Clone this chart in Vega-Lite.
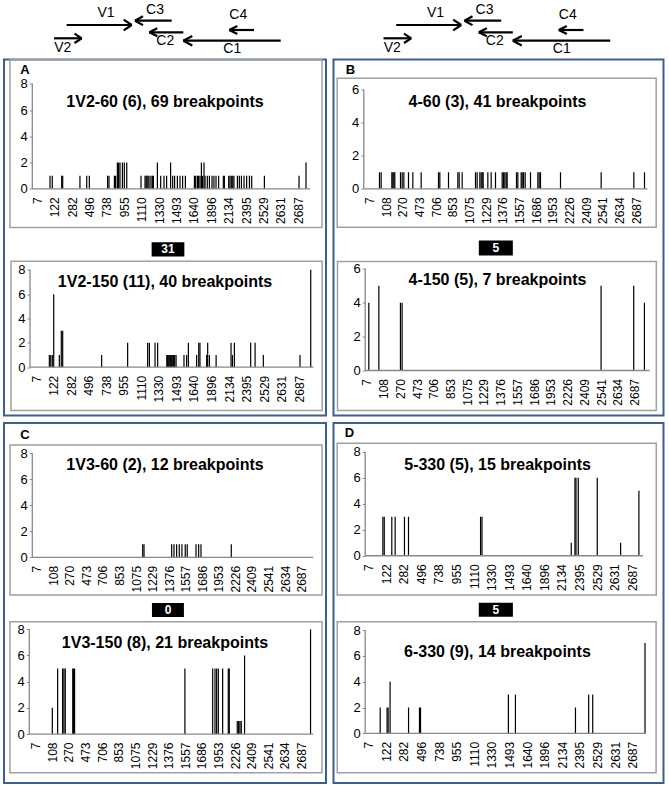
{
  "$schema": "https://vega.github.io/schema/vega-lite/v6.json",
  "padding": {"left": 3, "top": 0, "right": 0, "bottom": 0},
  "bounds": "flush",
  "align": "each",
  "columns": 2,
  "spacing": 7.5,
  "config": {
    "font": "Liberation Sans",
    "view": {"stroke": "#3D5F8C", "strokeWidth": 2},
    "axis": {"domain": false, "grid": false, "labelColor": "#000", "tickColor": "#888", "labelBound": false, "labelFlush": false, "labelOverlap": false},
    "axisX": {"labelAngle": -90, "ticks": false, "tickSize": 0, "labelPadding": 8, "labelFontSize": 12, "labelOverlap": false, "tickCount": 100},
    "axisY": {"tickSize": 3, "labelPadding": 2, "labelFontSize": 13, "tickCount": 20}
  },
  "datasets": {
    "seg": [
      {"x": 62.7, "y": 25, "x2": 127.7, "y2": 25},
      {"x": 119.7, "y": 19.7, "x2": 127.7, "y2": 25},
      {"x": 119.7, "y": 30.3, "x2": 127.7, "y2": 25},
      {"x": 50, "y": 38.3, "x2": 77.7, "y2": 38.3},
      {"x": 70.5, "y": 33.6, "x2": 77.7, "y2": 38.3},
      {"x": 70.5, "y": 43, "x2": 77.7, "y2": 38.3},
      {"x": 131, "y": 20.7, "x2": 167.7, "y2": 20.7},
      {"x": 131, "y": 20.7, "x2": 139, "y2": 16.3},
      {"x": 131, "y": 20.7, "x2": 139, "y2": 25.1},
      {"x": 145.3, "y": 32.3, "x2": 179.3, "y2": 32.3},
      {"x": 145.3, "y": 32.3, "x2": 153.3, "y2": 28.3},
      {"x": 145.3, "y": 32.3, "x2": 153.3, "y2": 36.3},
      {"x": 179.3, "y": 40.7, "x2": 276.7, "y2": 40.7},
      {"x": 179.3, "y": 40.7, "x2": 188.3, "y2": 36},
      {"x": 179.3, "y": 40.7, "x2": 188.3, "y2": 45.4},
      {"x": 225.3, "y": 30, "x2": 250, "y2": 30},
      {"x": 225.3, "y": 30, "x2": 233.3, "y2": 26},
      {"x": 225.3, "y": 30, "x2": 233.3, "y2": 34}
    ],
    "lab": [
      {"x": 102, "y": 13.3, "label": "V1"},
      {"x": 58.8, "y": 47.7, "label": "V2"},
      {"x": 151, "y": 10, "label": "C3"},
      {"x": 161.3, "y": 40.7, "label": "C2"},
      {"x": 228.3, "y": 49.3, "label": "C1"},
      {"x": 234.3, "y": 15, "label": "C4"}
    ],
    "A1": [
      {"pos": 7.3, "count": 1}, {"pos": 8.6, "count": 1}, {"pos": 14.0, "count": 1}, {"pos": 14.6, "count": 1},
      {"pos": 24.5, "count": 1}, {"pos": 28.4, "count": 1}, {"pos": 29.9, "count": 1}, {"pos": 40.4, "count": 1},
      {"pos": 41.2, "count": 1}, {"pos": 44.3, "count": 1}, {"pos": 45.0, "count": 1}, {"pos": 46.0, "count": 2},
      {"pos": 46.7, "count": 2}, {"pos": 47.5, "count": 2}, {"pos": 48.9, "count": 2}, {"pos": 50.0, "count": 2},
      {"pos": 51.4, "count": 2}, {"pos": 59.6, "count": 1}, {"pos": 61.9, "count": 1}, {"pos": 62.5, "count": 1},
      {"pos": 63.0, "count": 1}, {"pos": 63.6, "count": 1}, {"pos": 64.2, "count": 1}, {"pos": 65.3, "count": 1},
      {"pos": 66.1, "count": 1}, {"pos": 66.7, "count": 1}, {"pos": 69.0, "count": 2}, {"pos": 70.9, "count": 1},
      {"pos": 72.8, "count": 1}, {"pos": 74.3, "count": 1}, {"pos": 76.6, "count": 2}, {"pos": 77.8, "count": 1},
      {"pos": 78.9, "count": 1}, {"pos": 80.5, "count": 1}, {"pos": 82.0, "count": 1}, {"pos": 83.5, "count": 1},
      {"pos": 85.1, "count": 1}, {"pos": 90.3, "count": 1}, {"pos": 91.0, "count": 1}, {"pos": 92.0, "count": 1},
      {"pos": 92.7, "count": 1}, {"pos": 93.5, "count": 1}, {"pos": 94.3, "count": 2}, {"pos": 95.0, "count": 1},
      {"pos": 95.8, "count": 2}, {"pos": 96.4, "count": 1}, {"pos": 97.7, "count": 1}, {"pos": 98.9, "count": 1},
      {"pos": 100.4, "count": 1}, {"pos": 101.5, "count": 1}, {"pos": 102.7, "count": 1}, {"pos": 104.2, "count": 1},
      {"pos": 106.9, "count": 1}, {"pos": 107.5, "count": 1}, {"pos": 110.0, "count": 1}, {"pos": 110.7, "count": 1},
      {"pos": 111.5, "count": 1}, {"pos": 112.3, "count": 1}, {"pos": 113.0, "count": 1}, {"pos": 115.0, "count": 1},
      {"pos": 116.1, "count": 1}, {"pos": 117.3, "count": 1}, {"pos": 118.8, "count": 1}, {"pos": 120.3, "count": 1},
      {"pos": 121.9, "count": 1}, {"pos": 123.2, "count": 1}, {"pos": 130.5, "count": 1}, {"pos": 150.4, "count": 1},
      {"pos": 154.4, "count": 2}
    ],
    "A2": [
      {"pos": 7.6, "count": 1}, {"pos": 8.4, "count": 1}, {"pos": 9.3, "count": 1}, {"pos": 10.1, "count": 6},
      {"pos": 13.3, "count": 1}, {"pos": 14.4, "count": 3}, {"pos": 15.2, "count": 3}, {"pos": 37.4, "count": 1},
      {"pos": 52.2, "count": 2}, {"pos": 63.6, "count": 2}, {"pos": 64.6, "count": 2}, {"pos": 67.8, "count": 2},
      {"pos": 69.3, "count": 2}, {"pos": 74.5, "count": 1}, {"pos": 75.0, "count": 1}, {"pos": 75.6, "count": 1},
      {"pos": 76.2, "count": 1}, {"pos": 76.7, "count": 1}, {"pos": 77.3, "count": 1}, {"pos": 77.9, "count": 1},
      {"pos": 78.4, "count": 1}, {"pos": 79.0, "count": 1}, {"pos": 79.8, "count": 1}, {"pos": 84.3, "count": 1},
      {"pos": 85.8, "count": 1}, {"pos": 86.8, "count": 2}, {"pos": 91.5, "count": 1}, {"pos": 92.7, "count": 2},
      {"pos": 93.4, "count": 2}, {"pos": 97.2, "count": 1}, {"pos": 97.8, "count": 2}, {"pos": 98.8, "count": 1},
      {"pos": 102.6, "count": 1}, {"pos": 111.1, "count": 2}, {"pos": 111.9, "count": 1}, {"pos": 113.0, "count": 2},
      {"pos": 122.3, "count": 2}, {"pos": 124.8, "count": 2}, {"pos": 129.5, "count": 1}, {"pos": 150.4, "count": 1},
      {"pos": 156.5, "count": 8}
    ],
    "B1": [
      {"pos": 6, "count": 1}, {"pos": 7, "count": 1}, {"pos": 13.4, "count": 1}, {"pos": 14, "count": 1},
      {"pos": 14.6, "count": 1}, {"pos": 15.2, "count": 1}, {"pos": 18.6, "count": 1}, {"pos": 19.6, "count": 1},
      {"pos": 20.6, "count": 1}, {"pos": 23.4, "count": 1}, {"pos": 26, "count": 1}, {"pos": 31, "count": 1},
      {"pos": 41.4, "count": 1}, {"pos": 42.2, "count": 1}, {"pos": 47.4, "count": 1}, {"pos": 53, "count": 1},
      {"pos": 53.8, "count": 1}, {"pos": 55.6, "count": 1}, {"pos": 63.6, "count": 1}, {"pos": 64.6, "count": 1},
      {"pos": 66.2, "count": 1}, {"pos": 67, "count": 1}, {"pos": 67.6, "count": 1}, {"pos": 68.2, "count": 1},
      {"pos": 71, "count": 1}, {"pos": 73, "count": 1}, {"pos": 75.6, "count": 1}, {"pos": 79.6, "count": 1},
      {"pos": 80.4, "count": 1}, {"pos": 81.2, "count": 1}, {"pos": 82, "count": 1}, {"pos": 82.6, "count": 1},
      {"pos": 88.2, "count": 1}, {"pos": 89, "count": 1}, {"pos": 91, "count": 1}, {"pos": 91.6, "count": 1},
      {"pos": 92.4, "count": 1}, {"pos": 93.4, "count": 1}, {"pos": 96.6, "count": 1}, {"pos": 101, "count": 1},
      {"pos": 101.8, "count": 1}, {"pos": 102.6, "count": 1}, {"pos": 114.6, "count": 1}, {"pos": 139, "count": 1},
      {"pos": 158.6, "count": 1}, {"pos": 165, "count": 1}
    ],
    "B2": [
      {"pos": 1.2, "count": 4}, {"pos": 7.2, "count": 5}, {"pos": 20.1, "count": 4}, {"pos": 21.1, "count": 4},
      {"pos": 140.0, "count": 5}, {"pos": 159.5, "count": 5}, {"pos": 165.9, "count": 4}
    ],
    "C1": [
      {"pos": 64.0, "count": 1}, {"pos": 64.8, "count": 1}, {"pos": 81.5, "count": 1}, {"pos": 82.9, "count": 1},
      {"pos": 84.5, "count": 1}, {"pos": 86.1, "count": 1}, {"pos": 87.7, "count": 1}, {"pos": 89.7, "count": 1},
      {"pos": 90.9, "count": 1}, {"pos": 96.2, "count": 1}, {"pos": 97.8, "count": 1}, {"pos": 99.2, "count": 1},
      {"pos": 117.5, "count": 1}
    ],
    "C2": [
      {"pos": 10.0, "count": 2}, {"pos": 13.2, "count": 5}, {"pos": 16.2, "count": 5}, {"pos": 17.0, "count": 5},
      {"pos": 17.8, "count": 5}, {"pos": 22.3, "count": 5}, {"pos": 22.8, "count": 5}, {"pos": 23.4, "count": 5},
      {"pos": 89.8, "count": 5}, {"pos": 106.5, "count": 5}, {"pos": 107.9, "count": 5}, {"pos": 108.9, "count": 5},
      {"pos": 109.9, "count": 5}, {"pos": 112.5, "count": 5}, {"pos": 115.9, "count": 5}, {"pos": 116.5, "count": 5},
      {"pos": 121.3, "count": 1}, {"pos": 122.1, "count": 1}, {"pos": 122.9, "count": 1}, {"pos": 123.7, "count": 1},
      {"pos": 125.7, "count": 6}, {"pos": 165.4, "count": 8}
    ],
    "D1": [
      {"pos": 8.1, "count": 3}, {"pos": 8.9, "count": 3}, {"pos": 13.2, "count": 3}, {"pos": 15.1, "count": 3},
      {"pos": 20.4, "count": 3}, {"pos": 22.7, "count": 3}, {"pos": 63.7, "count": 3}, {"pos": 64.5, "count": 3},
      {"pos": 115.3, "count": 1}, {"pos": 117.4, "count": 6}, {"pos": 118.0, "count": 6}, {"pos": 119.3, "count": 6},
      {"pos": 130.1, "count": 6}, {"pos": 143.4, "count": 1}, {"pos": 153.8, "count": 5}
    ],
    "D2": [
      {"pos": 6.6, "count": 2}, {"pos": 10.5, "count": 2}, {"pos": 11.1, "count": 2}, {"pos": 12.2, "count": 4},
      {"pos": 22.7, "count": 2}, {"pos": 28.9, "count": 2}, {"pos": 29.5, "count": 2}, {"pos": 79.4, "count": 3},
      {"pos": 83.4, "count": 3}, {"pos": 117.5, "count": 2}, {"pos": 125.0, "count": 3}, {"pos": 127.3, "count": 3},
      {"pos": 157.0, "count": 7}
    ]
  },
  "concat": [
    {
      "width": 322, "height": 51.5,
      "view": {"stroke": null},
      "layer": [
        {"data": {"name": "seg"}, "mark": {"type": "rule", "color": "#000", "strokeWidth": 2.2},
         "encoding": {
           "x": {"field": "x", "type": "quantitative", "scale": {"domain": [0, 322], "nice": false, "zero": false}, "axis": null},
           "y": {"field": "y", "type": "quantitative", "scale": {"domain": [0, 51.5], "reverse": true, "nice": false, "zero": false}, "axis": null},
           "x2": {"field": "x2"}, "y2": {"field": "y2"}}},
        {"data": {"name": "lab"}, "mark": {"type": "text", "fontSize": 14, "color": "#000"},
         "encoding": {"x": {"field": "x", "type": "quantitative", "axis": null}, "y": {"field": "y", "type": "quantitative", "axis": null}, "text": {"field": "label"}}}
      ]
    },
    {
      "width": 330, "height": 51.5,
      "view": {"stroke": null},
      "layer": [
        {"data": {"name": "seg"}, "mark": {"type": "rule", "color": "#000", "strokeWidth": 2.2},
         "encoding": {
           "x": {"field": "x", "type": "quantitative", "scale": {"domain": [0, 330], "nice": false, "zero": false}, "axis": null},
           "y": {"field": "y", "type": "quantitative", "scale": {"domain": [0, 51.5], "reverse": true, "nice": false, "zero": false}, "axis": null},
           "x2": {"field": "x2"}, "y2": {"field": "y2"}}},
        {"data": {"name": "lab"}, "mark": {"type": "text", "fontSize": 14, "color": "#000"},
         "encoding": {"x": {"field": "x", "type": "quantitative", "axis": null}, "y": {"field": "y", "type": "quantitative", "axis": null}, "text": {"field": "label"}}}
      ]
    },
    {
      "width": 322, "height": 356,
      "resolve": {"scale": {"x": "independent", "y": "independent"}},
      "layer": [
        {
          "layer": [
            {"data": {"name": "A1"}, "mark": {"type": "rule", "color": "#000", "strokeWidth": 1.2},
             "encoding": {
               "x": {"field": "pos", "type": "quantitative", "scale": {"domain": [-19.14, 165.9], "nice": false, "zero": false},
                     "axis": {"orient": "bottom", "offset": -226.7, "title": null, "tickCount": 100, "labelOverlap": false, "values": [0,10,20,30,40,50,60,70,80,90,100,110,120,130,140,150],
                              "labelExpr": "['7','122','282','496','738','955','1110','1330','1493','1640','1896','2134','2395','2529','2631','2687'][round(datum.value/10)]"}},
               "y": {"field": "count", "type": "quantitative", "scale": {"domain": [-17.27, 9.851], "nice": false, "zero": false},
                     "axis": {"orient": "left", "offset": -28.3, "title": null, "values": [0,2,4,6,8]}},
               "y2": {"datum": 0}}},
            {"data": {"values": [{}]}, "mark": {"type": "rect", "filled": false, "stroke": "#A0A0A0", "strokeWidth": 1.5},
             "encoding": {"x": {"datum": -15.7}, "x2": {"datum": 163.6}, "y": {"datum": -2.95}, "y2": {"datum": 9.84}}},
            {"data": {"values": [{}]}, "mark": {"type": "rule", "color": "#888", "strokeWidth": 1.3},
             "encoding": {"x": {"datum": -2.87}, "y": {"datum": 0}, "y2": {"datum": 8}}},
            {"data": {"values": [{}]}, "mark": {"type": "rule", "color": "#888", "strokeWidth": 1.3},
             "encoding": {"x": {"datum": -2.87}, "x2": {"datum": 156.7}, "y": {"datum": 0}}},
            {"data": {"values": [{}]}, "mark": {"type": "text", "fontSize": 16, "fontWeight": "bold", "text": "1V2-60 (6), 69 breakpoints"},
             "encoding": {"x": {"datum": 73.4}, "y": {"datum": 6.58}}},
            {"data": {"values": [{}]}, "mark": {"type": "text", "fontSize": 13, "fontWeight": "bold", "text": "A"},
             "encoding": {"x": {"datum": -7.1}, "y": {"datum": 9.07}}},
            {"data": {"values": [{}]}, "mark": {"type": "rect", "color": "#000"},
             "encoding": {"x": {"datum": 65.7}, "x2": {"datum": 84.5}, "y": {"datum": -5.16}, "y2": {"datum": -4.07}}},
            {"data": {"values": [{}]}, "mark": {"type": "text", "fontSize": 12, "fontWeight": "bold", "color": "#fff", "text": "31"},
             "encoding": {"x": {"datum": 75.1}, "y": {"datum": -4.6}}}
          ]
        },
        {
          "layer": [
            {"data": {"name": "A2"}, "mark": {"type": "rule", "color": "#000", "strokeWidth": 1.2},
             "encoding": {
               "x": {"field": "pos", "type": "quantitative", "scale": {"domain": [-18.23, 165.2], "nice": false, "zero": false},
                     "axis": {"orient": "bottom", "offset": -48.3, "title": null, "tickCount": 100, "labelOverlap": false, "values": [0,10,20,30,40,50,60,70,80,90,100,110,120,130,140,150],
                              "labelExpr": "['7','122','282','496','738','955','1110','1330','1493','1640','1896','2134','2395','2529','2631','2687'][round(datum.value/10)]"}},
               "y": {"field": "count", "type": "quantitative", "scale": {"domain": [-3.97, 25.28], "nice": false, "zero": false},
                     "axis": {"orient": "left", "offset": -26, "title": null, "values": [0,2,4,6,8]}},
               "y2": {"datum": 0}}},
            {"data": {"values": [{}]}, "mark": {"type": "rect", "filled": false, "stroke": "#A0A0A0", "strokeWidth": 1.5},
             "encoding": {"x": {"datum": -14.25}, "x2": {"datum": 163.0}, "y": {"datum": -3.56}, "y2": {"datum": 8.71}}},
            {"data": {"values": [{}]}, "mark": {"type": "rule", "color": "#888", "strokeWidth": 1.3},
             "encoding": {"x": {"datum": -3.42}, "y": {"datum": 0}, "y2": {"datum": 8}}},
            {"data": {"values": [{}]}, "mark": {"type": "rule", "color": "#888", "strokeWidth": 1.3},
             "encoding": {"x": {"datum": -3.42}, "x2": {"datum": 158.0}, "y": {"datum": 0}}},
            {"data": {"values": [{}]}, "mark": {"type": "text", "fontSize": 16, "fontWeight": "bold", "text": "1V2-150 (11), 40 breakpoints"},
             "encoding": {"x": {"datum": 73.5}, "y": {"datum": 6.98}}}
          ]
        }
      ]
    },
    {
      "width": 330, "height": 356,
      "resolve": {"scale": {"x": "independent", "y": "independent"}},
      "layer": [
        {
          "layer": [
            {"data": {"name": "B1"}, "mark": {"type": "rule", "color": "#000", "strokeWidth": 1.2},
             "encoding": {
               "x": {"field": "pos", "type": "quantitative", "scale": {"domain": [-21.6, 176.4], "nice": false, "zero": false},
                     "axis": {"orient": "bottom", "offset": -226.7, "title": null, "tickCount": 100, "labelOverlap": false, "values": [0,10,20,30,40,50,60,70,80,90,100,110,120,130,140,150,160],
                              "labelExpr": "['7','108','270','473','706','853','1075','1229','1376','1557','1686','1953','2226','2409','2541','2634','2687'][round(datum.value/10)]"}},
               "y": {"field": "count", "type": "quantitative", "scale": {"domain": [-13.74, 7.836], "nice": false, "zero": false},
                     "axis": {"orient": "left", "offset": -30.3, "title": null, "values": [0,2,4,6]}},
               "y2": {"datum": 0}}},
            {"data": {"values": [{}]}, "mark": {"type": "rect", "filled": false, "stroke": "#A0A0A0", "strokeWidth": 1.5},
             "encoding": {"x": {"datum": -19.4}, "x2": {"datum": 172.0}, "y": {"datum": -2.33}, "y2": {"datum": 6.70}}},
            {"data": {"values": [{}]}, "mark": {"type": "rule", "color": "#888", "strokeWidth": 1.3},
             "encoding": {"x": {"datum": -3.42}, "y": {"datum": 0}, "y2": {"datum": 6}}},
            {"data": {"values": [{}]}, "mark": {"type": "rule", "color": "#888", "strokeWidth": 1.3},
             "encoding": {"x": {"datum": -3.42}, "x2": {"datum": 166.8}, "y": {"datum": 0}}},
            {"data": {"values": [{}]}, "mark": {"type": "text", "fontSize": 16, "fontWeight": "bold", "text": "4-60 (3),  41 breakpoints"},
             "encoding": {"x": {"datum": 76.8}, "y": {"datum": 5.25}}},
            {"data": {"values": [{}]}, "mark": {"type": "text", "fontSize": 13, "fontWeight": "bold", "text": "B"},
             "encoding": {"x": {"datum": -11.4}, "y": {"datum": 7.2}}},
            {"data": {"values": [{}]}, "mark": {"type": "rect", "color": "#000"},
             "encoding": {"x": {"datum": 65.6}, "x2": {"datum": 86.0}, "y": {"datum": -4.04}, "y2": {"datum": -3.13}}},
            {"data": {"values": [{}]}, "mark": {"type": "text", "fontSize": 12, "fontWeight": "bold", "color": "#fff", "text": "5"},
             "encoding": {"x": {"datum": 75.8}, "y": {"datum": -3.59}}}
          ]
        },
        {
          "layer": [
            {"data": {"name": "B2"}, "mark": {"type": "rule", "color": "#000", "strokeWidth": 1.2},
             "encoding": {
               "x": {"field": "pos", "type": "quantitative", "scale": {"domain": [-19.9, 177.3], "nice": false, "zero": false},
                     "axis": {"orient": "bottom", "offset": -45, "title": null, "tickCount": 100, "labelOverlap": false, "values": [0,10,20,30,40,50,60,70,80,90,100,110,120,130,140,150,160],
                              "labelExpr": "['7','108','270','473','706','853','1075','1229','1376','1557','1686','1953','2226','2409','2541','2634','2687'][round(datum.value/10)]"}},
               "y": {"field": "count", "type": "quantitative", "scale": {"domain": [-2.655, 18.35], "nice": false, "zero": false},
                     "axis": {"orient": "left", "offset": -31.7, "title": null, "values": [0,2,4,6]}},
               "y2": {"datum": 0}}},
            {"data": {"values": [{}]}, "mark": {"type": "rect", "filled": false, "stroke": "#A0A0A0", "strokeWidth": 1.5},
             "encoding": {"x": {"datum": -17.5}, "x2": {"datum": 173.0}, "y": {"datum": -2.36}, "y2": {"datum": 6.43}}},
            {"data": {"values": [{}]}, "mark": {"type": "rule", "color": "#888", "strokeWidth": 1.3},
             "encoding": {"x": {"datum": -0.96}, "y": {"datum": 0}, "y2": {"datum": 6}}},
            {"data": {"values": [{}]}, "mark": {"type": "rule", "color": "#888", "strokeWidth": 1.3},
             "encoding": {"x": {"datum": -0.96}, "x2": {"datum": 169.0}, "y": {"datum": 0}}},
            {"data": {"values": [{}]}, "mark": {"type": "text", "fontSize": 16, "fontWeight": "bold", "text": "4-150 (5),  7 breakpoints"},
             "encoding": {"x": {"datum": 78.1}, "y": {"datum": 5.35}}}
          ]
        }
      ]
    },
    {
      "width": 322, "height": 360,
      "resolve": {"scale": {"x": "independent", "y": "independent"}},
      "layer": [
        {
          "layer": [
            {"data": {"name": "C1"}, "mark": {"type": "rule", "color": "#000", "strokeWidth": 1.2},
             "encoding": {
               "x": {"field": "pos", "type": "quantitative", "scale": {"domain": [-19.75, 174.7], "nice": false, "zero": false},
                     "axis": {"orient": "bottom", "offset": -225.7, "title": null, "tickCount": 100, "labelOverlap": false, "values": [0,10,20,30,40,50,60,70,80,90,100,110,120,130,140,150,160],
                              "labelExpr": "['7','108','270','473','706','853','1075','1229','1376','1557','1686','1953','2226','2409','2541','2634','2687'][round(datum.value/10)]"}},
               "y": {"field": "count", "type": "quantitative", "scale": {"domain": [-17.36, 10.33], "nice": false, "zero": false},
                     "axis": {"orient": "left", "offset": -28.3, "title": null, "values": [0,2,4,6,8]}},
               "y2": {"datum": 0}}},
            {"data": {"values": [{}]}, "mark": {"type": "rect", "filled": false, "stroke": "#A0A0A0", "strokeWidth": 1.5},
             "encoding": {"x": {"datum": -16.1}, "x2": {"datum": 172.3}, "y": {"datum": -2.9}, "y2": {"datum": 8.64}}},
            {"data": {"values": [{}]}, "mark": {"type": "rule", "color": "#888", "strokeWidth": 1.3},
             "encoding": {"x": {"datum": -2.66}, "y": {"datum": 0}, "y2": {"datum": 8}}},
            {"data": {"values": [{}]}, "mark": {"type": "rule", "color": "#888", "strokeWidth": 1.3},
             "encoding": {"x": {"datum": -2.66}, "x2": {"datum": 167.0}, "y": {"datum": 0}}},
            {"data": {"values": [{}]}, "mark": {"type": "text", "fontSize": 16, "fontWeight": "bold", "text": "1V3-60 (2), 12 breakpoints"},
             "encoding": {"x": {"datum": 77.5}, "y": {"datum": 7.1}}},
            {"data": {"values": [{}]}, "mark": {"type": "text", "fontSize": 13, "fontWeight": "bold", "text": "C"},
             "encoding": {"x": {"datum": -7.07}, "y": {"datum": 9.4}}},
            {"data": {"values": [{}]}, "mark": {"type": "rect", "color": "#000"},
             "encoding": {"x": {"datum": 69.6}, "x2": {"datum": 88.9}, "y": {"datum": -4.6}, "y2": {"datum": -3.52}}},
            {"data": {"values": [{}]}, "mark": {"type": "text", "fontSize": 12, "fontWeight": "bold", "color": "#fff", "text": "0"},
             "encoding": {"x": {"datum": 79.3}, "y": {"datum": -4.06}}}
          ]
        },
        {
          "layer": [
            {"data": {"name": "C2"}, "mark": {"type": "rule", "color": "#000", "strokeWidth": 1.2},
             "encoding": {
               "x": {"field": "pos", "type": "quantitative", "scale": {"domain": [-19.07, 174.7], "nice": false, "zero": false},
                     "axis": {"orient": "bottom", "offset": -49, "title": null, "tickCount": 100, "labelOverlap": false, "values": [0,10,20,30,40,50,60,70,80,90,100,110,120,130,140,150,160],
                              "labelExpr": "['7','108','270','473','706','853','1075','1229','1376','1557','1686','1953','2226','2409','2541','2634','2687'][round(datum.value/10)]"}},
               "y": {"field": "count", "type": "quantitative", "scale": {"domain": [-3.74, 23.76], "nice": false, "zero": false},
                     "axis": {"orient": "left", "offset": -25.3, "title": null, "values": [0,2,4,6,8]}},
               "y2": {"datum": 0}}},
            {"data": {"values": [{}]}, "mark": {"type": "rect", "filled": false, "stroke": "#A0A0A0", "strokeWidth": 1.5},
             "encoding": {"x": {"datum": -15.5}, "x2": {"datum": 172.3}, "y": {"datum": -2.96}, "y2": {"datum": 8.58}}},
            {"data": {"values": [{}]}, "mark": {"type": "rule", "color": "#888", "strokeWidth": 1.3},
             "encoding": {"x": {"datum": -3.85}, "y": {"datum": 0}, "y2": {"datum": 8}}},
            {"data": {"values": [{}]}, "mark": {"type": "rule", "color": "#888", "strokeWidth": 1.3},
             "encoding": {"x": {"datum": -3.85}, "x2": {"datum": 167.0}, "y": {"datum": 0}}},
            {"data": {"values": [{}]}, "mark": {"type": "text", "fontSize": 16, "fontWeight": "bold", "text": "1V3-150 (8), 21 breakpoints"},
             "encoding": {"x": {"datum": 77.8}, "y": {"datum": 6.93}}}
          ]
        }
      ]
    },
    {
      "width": 330, "height": 360,
      "resolve": {"scale": {"x": "independent", "y": "independent"}},
      "layer": [
        {
          "layer": [
            {"data": {"name": "D1"}, "mark": {"type": "rule", "color": "#000", "strokeWidth": 1.2},
             "encoding": {
               "x": {"field": "pos", "type": "quantitative", "scale": {"domain": [-19.98, 167.8], "nice": false, "zero": false},
                     "axis": {"orient": "bottom", "offset": -227.3, "title": null, "tickCount": 100, "labelOverlap": false, "values": [0,10,20,30,40,50,60,70,80,90,100,110,120,130,140,150],
                              "labelExpr": "['7','122','282','496','738','955','1110','1330','1493','1640','1896','2134','2395','2529','2631','2687'][round(datum.value/10)]"}},
               "y": {"field": "count", "type": "quantitative", "scale": {"domain": [-17.48, 10.21], "nice": false, "zero": false},
                     "axis": {"orient": "left", "offset": -31.7, "title": null, "values": [0,2,4,6,8]}},
               "y2": {"datum": 0}}},
            {"data": {"values": [{}]}, "mark": {"type": "rect", "filled": false, "stroke": "#A0A0A0", "strokeWidth": 1.5},
             "encoding": {"x": {"datum": -17.9}, "x2": {"datum": 163.7}, "y": {"datum": -3.02}, "y2": {"datum": 8.65}}},
            {"data": {"values": [{}]}, "mark": {"type": "rule", "color": "#888", "strokeWidth": 1.3},
             "encoding": {"x": {"datum": -1.94}, "y": {"datum": 0}, "y2": {"datum": 8}}},
            {"data": {"values": [{}]}, "mark": {"type": "rule", "color": "#888", "strokeWidth": 1.3},
             "encoding": {"x": {"datum": -1.94}, "x2": {"datum": 156.1}, "y": {"datum": 0}}},
            {"data": {"values": [{}]}, "mark": {"type": "text", "fontSize": 16, "fontWeight": "bold", "text": "5-330  (5), 15 breakpoints"},
             "encoding": {"x": {"datum": 73.4}, "y": {"datum": 6.98}}},
            {"data": {"values": [{}]}, "mark": {"type": "text", "fontSize": 13, "fontWeight": "bold", "text": "D"},
             "encoding": {"x": {"datum": -10.9}, "y": {"datum": 9.43}}},
            {"data": {"values": [{}]}, "mark": {"type": "rect", "color": "#000"},
             "encoding": {"x": {"datum": 62.7}, "x2": {"datum": 82.1}, "y": {"datum": -4.69}, "y2": {"datum": -3.62}}},
            {"data": {"values": [{}]}, "mark": {"type": "text", "fontSize": 12, "fontWeight": "bold", "color": "#fff", "text": "5"},
             "encoding": {"x": {"datum": 72.4}, "y": {"datum": -4.15}}}
          ]
        },
        {
          "layer": [
            {"data": {"name": "D2"}, "mark": {"type": "rule", "color": "#000", "strokeWidth": 1.2},
             "encoding": {
               "x": {"field": "pos", "type": "quantitative", "scale": {"domain": [-19.93, 167.5], "nice": false, "zero": false},
                     "axis": {"orient": "bottom", "offset": -49.7, "title": null, "tickCount": 100, "labelOverlap": false, "values": [0,10,20,30,40,50,60,70,80,90,100,110,120,130,140,150],
                              "labelExpr": "['7','122','282','496','738','955','1110','1330','1493','1640','1896','2134','2395','2529','2631','2687'][round(datum.value/10)]"}},
               "y": {"field": "count", "type": "quantitative", "scale": {"domain": [-3.85, 24.05], "nice": false, "zero": false},
                     "axis": {"orient": "left", "offset": -31.7, "title": null, "values": [0,2,4,6,8]}},
               "y2": {"datum": 0}}},
            {"data": {"values": [{}]}, "mark": {"type": "rect", "filled": false, "stroke": "#A0A0A0", "strokeWidth": 1.5},
             "encoding": {"x": {"datum": -17.8}, "x2": {"datum": 163.3}, "y": {"datum": -3.05}, "y2": {"datum": 8.65}}},
            {"data": {"values": [{}]}, "mark": {"type": "rule", "color": "#888", "strokeWidth": 1.3},
             "encoding": {"x": {"datum": -1.93}, "y": {"datum": 0}, "y2": {"datum": 8}}},
            {"data": {"values": [{}]}, "mark": {"type": "rule", "color": "#888", "strokeWidth": 1.3},
             "encoding": {"x": {"datum": -1.93}, "x2": {"datum": 157.6}, "y": {"datum": 0}}},
            {"data": {"values": [{}]}, "mark": {"type": "text", "fontSize": 16, "fontWeight": "bold", "text": "6-330 (9), 14 breakpoints"},
             "encoding": {"x": {"datum": 73.2}, "y": {"datum": 6.33}}}
          ]
        }
      ]
    }
  ]
}
